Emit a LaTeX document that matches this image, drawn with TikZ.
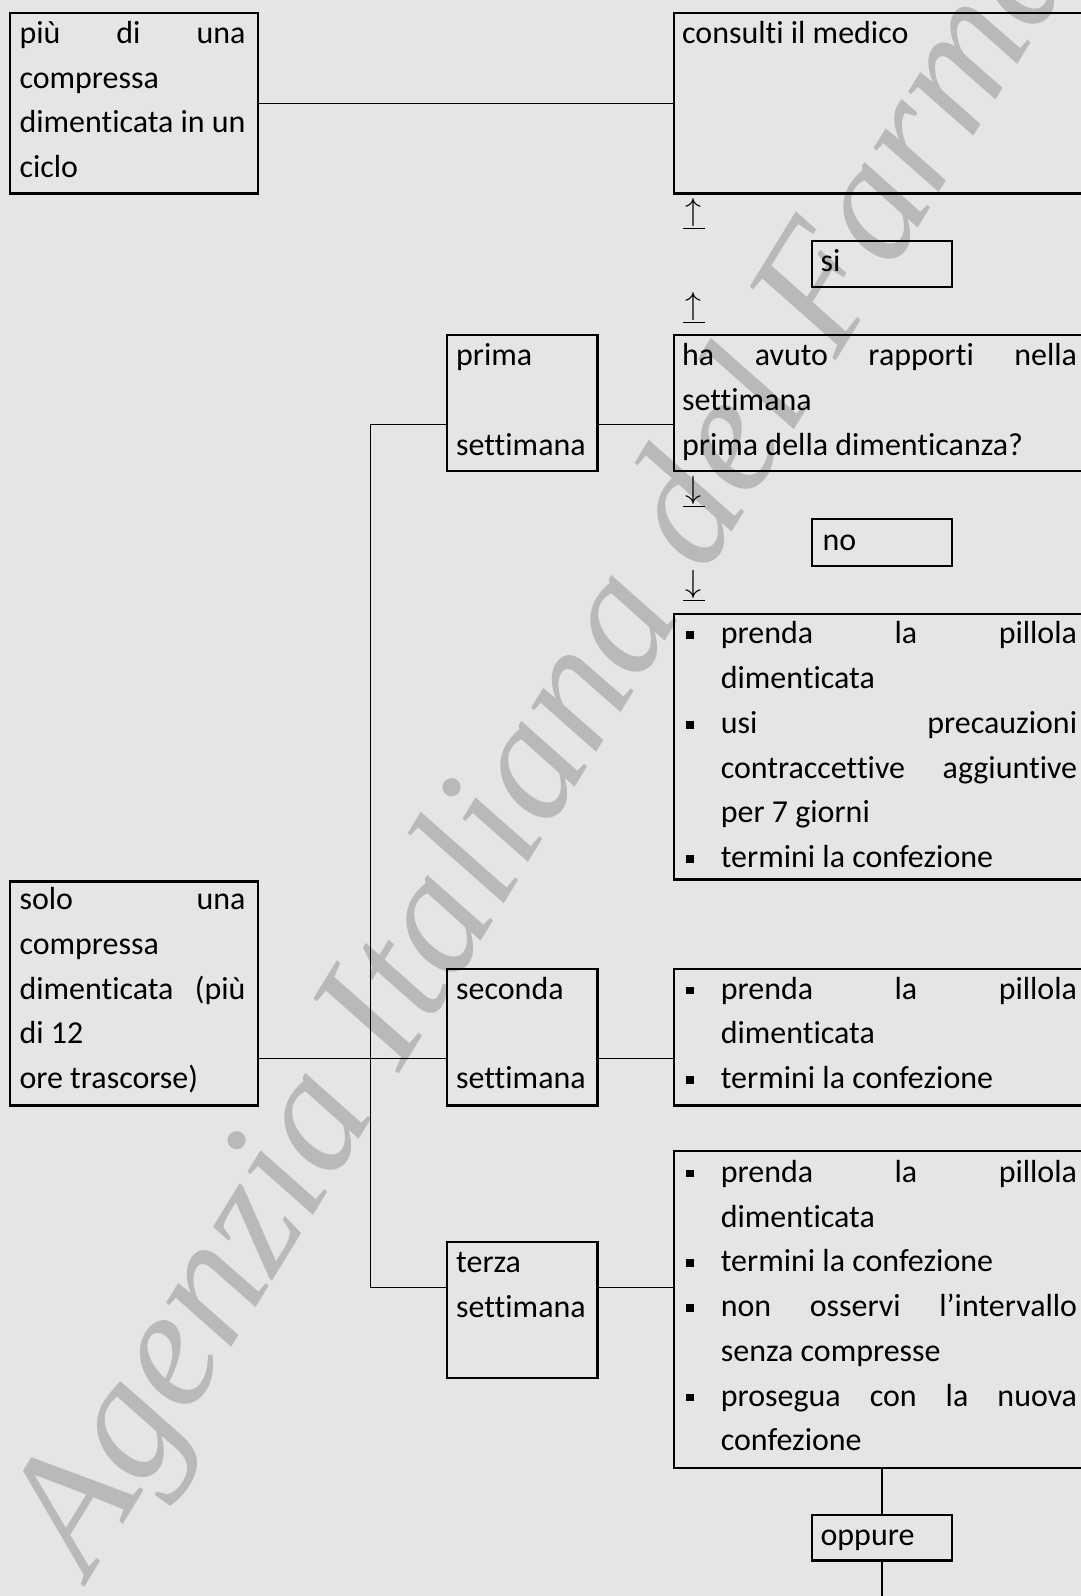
\RequirePackage{fix-cm}
\documentclass[tikz,border=0pt]{standalone}
\usepackage{fontspec}
\setmainfont{Carlito}[Ligatures={NoCommon}]
\newfontfamily\markfont{Liberation Serif}
\usetikzlibrary{calc}
\usetikzlibrary{positioning}

\definecolor{pagegray}{gray}{0.9}
\definecolor{markgray}{gray}{0.725}

% justified line, square bullet, bullet item, continued item
\newcommand{\jline}[2]{\makebox[#1][s]{#2}}
\newcommand{\sqbul}{\rule[0.15em]{0.24em}{0.24em}}
\newcommand{\bitem}[1]{\makebox[34pt][l]{\sqbul}#1}
\newcommand{\bcont}[1]{\hspace*{34pt}#1}
% underlined arrow
\newcommand{\uarr}[1]{\underline{\makebox[21pt]{$#1$}}}

\begin{document}
\begin{tikzpicture}
		[
		x=1pt,y=-1pt,
		font=\fontsize{31.4}{44}\selectfont
		]
		
		% Styles: boxes, texts, connectors
		\tikzstyle{box}=[draw,line width=2.2pt,anchor=north west,inner sep=0pt];
		\tikzstyle{txt}=[anchor=base west,inner sep=0pt];
		\tikzstyle{link}=[draw,line width=1.6pt];
		\tikzstyle{watermark}=[anchor=base west,inner sep=0pt,text=markgray,font=\markfont\itshape\fontsize{168}{168}\selectfont];
		
		% Page
		\useasboundingbox (0,0) rectangle (1062,1568);
		\fill[pagegray] (0,0) rectangle (1062,1568);
		\clip (0,0) rectangle (1062,1568);
		
		% Watermark
		\node[watermark,rotate=58.5] (agenzia) at (88,1552) {Agenzia Italiana del Farmaco};
		
		% The boxes
		\node[box,minimum width=243pt,minimum height=177pt] (piu) at (9,12) {};
		\node[box,minimum width=414pt,minimum height=177pt] (consulti) at (661,12) {};
		\node[box,minimum width=137pt,minimum height=45pt] (si) at (797,236) {};
		\node[box,minimum width=148pt,minimum height=134pt] (prima) at (438,328) {};
		\node[box,minimum width=414pt,minimum height=134pt] (rapporti) at (661,328) {};
		\node[box,minimum width=137pt,minimum height=46pt] (no) at (797,509) {};
		\node[box,minimum width=414pt,minimum height=261pt] (cprima) at (661,602) {};
		\node[box,minimum width=243pt,minimum height=220pt] (solo) at (9,865) {};
		\node[box,minimum width=148pt,minimum height=134pt] (seconda) at (438,951) {};
		\node[box,minimum width=414pt,minimum height=134pt] (cseconda) at (661,951) {};
		\node[box,minimum width=148pt,minimum height=134pt] (terza) at (438,1219) {};
		\node[box,minimum width=414pt,minimum height=311pt] (cterza) at (661,1130) {};
		\node[box,minimum width=137pt,minimum height=45pt] (oppure) at (797,1487) {};
		
		% Texts in the boxes
		\node[txt] (piutxt) at (19,42.5) {\parbox[t]{300pt}{\jline{222pt}{più di una}\\compressa\\\jline{222pt}{dimenticata in un}\\ciclo}};
		\node[txt] (consultitxt) at (670,42.5) {consulti il medico};
		\node[txt] (sitxt) at (806,266.5) {si};
		\node[txt] (primatxt) at (448,359.5) {\parbox[t]{140pt}{prima\\\mbox{}\\settimana}};
		\node[txt] (rapportitxt) at (670,359.5) {\parbox[t]{400pt}{\jline{388pt}{ha avuto rapporti nella}\\settimana\\prima della dimenticanza?}};
		\node[txt] (notxt) at (808,540.5) {no};
		\node[txt] (cprimatxt) at (674,632.5) {\parbox[t]{400pt}{\bitem{\jline{350pt}{prenda la pillola}}\\\bcont{dimenticata}\\\bitem{\jline{350pt}{usi precauzioni}}\\\bcont{\jline{350pt}{contraccettive aggiuntive}}\\\bcont{per 7 giorni}\\\bitem{termini la confezione}}};
		\node[txt] (solotxt) at (19,893.5) {\parbox[t]{300pt}{\jline{222pt}{solo una}\\compressa\\\jline{222pt}{dimenticata (più}\\di 12\\ore trascorse)}};
		\node[txt] (secondatxt) at (448,981.5) {\parbox[t]{140pt}{seconda\\\mbox{}\\settimana}};
		\node[txt] (csecondatxt) at (674,981.5) {\parbox[t]{400pt}{\bitem{\jline{350pt}{prenda la pillola}}\\\bcont{dimenticata}\\\bitem{termini la confezione}}};
		\node[txt] (terzatxt) at (448,1250.5) {\parbox[t]{140pt}{terza\\settimana}};
		\node[txt] (cterzatxt) at (674,1161.5) {\parbox[t]{400pt}{\bitem{\jline{350pt}{prenda la pillola}}\\\bcont{dimenticata}\\\bitem{termini la confezione}\\\bitem{\jline{350pt}{non osservi l’intervallo}}\\\bcont{senza compresse}\\\bitem{\jline{350pt}{prosegua con la nuova}}\\\bcont{confezione}}};
		\node[txt] (oppuretxt) at (806,1518.5) {oppure};
		
		% Arrows between the question and its answers
		\node[txt] (su1) at (671,217) {\uarr{\uparrow}};
		\node[txt] (su2) at (671,309) {\uarr{\uparrow}};
		\node[txt] (giu1) at (671,490) {\uarr{\downarrow}};
		\node[txt] (giu2) at (671,582) {\uarr{\downarrow}};
		
		% Connectors
		\coordinate (k1) at (364,417);
		\coordinate (k2) at (364,1040);
		\coordinate (k3) at (364,1265);
		\coordinate (fine) at (865,1575);
		\draw[link] (piu.east) -- (consulti.west);
		\draw[link] (k1) -- (k3);
		\draw[link] (k1) -- (k1 -| prima.west);
		\draw[link] (k1 -| prima.east) -- (k1 -| rapporti.west);
		\draw[link] (solo.east |- k2) -- (k2 -| seconda.west);
		\draw[link] (k2 -| seconda.east) -- (k2 -| cseconda.west);
		\draw[link] (k3) -- (k3 -| terza.west);
		\draw[link] (k3 -| terza.east) -- (k3 -| cterza.west);
		\draw[link] (oppure.north |- cterza.south) -- (oppure.north);
		\draw[link] (oppure.south) -- (oppure.south |- fine);
\end{tikzpicture}
\end{document}
